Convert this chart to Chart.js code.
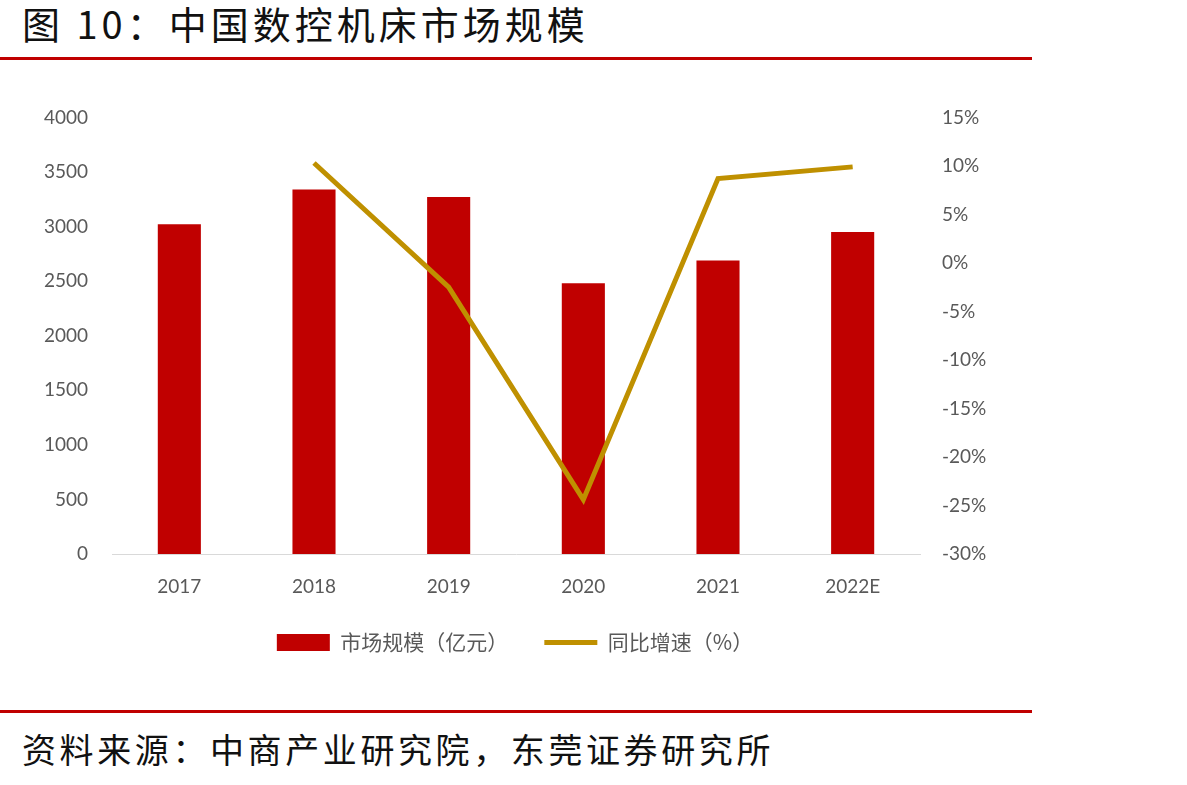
<!DOCTYPE html>
<html>
<head>
<meta charset="utf-8">
<script src="https://cdn.jsdelivr.net/npm/chart.js@4"></script>
<style>
  body { margin: 0; background: #fff; width: 1187px; height: 785px; position: relative; overflow: hidden; }
  .titulo { position: absolute; left: 22px; top: 0px; font: 38px "Noto Sans CJK SC", sans-serif; letter-spacing: 4px; color: #111; line-height: 46px; }
  .fuente { position: absolute; left: 22px; top: 726px; font: 34px "Noto Sans CJK SC", sans-serif; letter-spacing: 3.6px; color: #111; line-height: 46px; }
  .linea { position: absolute; left: 0; width: 1032px; height: 3px; background: #c00000; }
  #caja { position: absolute; left: 0; top: 82px; width: 1030px; height: 608px; }
</style>
</head>
<body>
<div class="titulo">图 10：中国数控机床市场规模</div>
<div class="linea" style="top:57px"></div>
<div id="caja"><canvas id="myChart"></canvas></div>
<div class="linea" style="top:710px"></div>
<div class="fuente">资料来源：中商产业研究院，东莞证券研究所</div>
<script>
const anios = ["2017", "2018", "2019", "2020", "2021", "2022E"];
const mercado = [3020, 3340, 3270, 2480, 2690, 2950];   // 亿元
const crecimiento = [null, 10.3, -2.5, -24.4, 8.7, 9.9]; // %
const ticksIzq = [0, 4000, 500];
const ticksDer = [-30, 15, 5];

const fuenteEje = { family: "Lato, 'Noto Sans CJK SC', sans-serif", size: 19 };
const colorTexto = "#595959";
const ctx = document.getElementById("myChart");

const config = {
  type: "bar",
  data: {
    labels: anios,
    datasets: [
      {
        label: "市场规模（亿元）",
        data: mercado,
        backgroundColor: "#c00000",
        borderWidth: 0,
        barPercentage: 0.32,
        categoryPercentage: 1,
        yAxisID: "y",
        order: 1,
      },
      {
        type: "line",
        label: "同比增速（%）",
        data: crecimiento,
        borderColor: "#bf9000",
        backgroundColor: "#bf9000",
        borderWidth: 5,
        pointRadius: 0,
        tension: 0,
        yAxisID: "y1",
        order: 0,
      },
    ],
  },
  options: {
    responsive: true,
    maintainAspectRatio: false,
    animation: false,
    layout: { padding: { top: 19, bottom: 27, left: 0, right: 0 } },
    plugins: {
      tooltip: { enabled: false },
      legend: {
        position: "bottom",
        labels: {
          usePointStyle: true,
          pointStyleWidth: 53,
          boxHeight: 17,
          padding: 36,
          color: colorTexto,
          font: { family: "'Noto Sans CJK SC', sans-serif", size: 21 },
          sort: (a, b) => a.datasetIndex - b.datasetIndex,
          generateLabels: (chart) => {
            const items = Chart.defaults.plugins.legend.labels.generateLabels(chart);
            items.forEach((it) => {
              it.pointStyle = it.datasetIndex === 0 ? "rect" : "line";
            });
            return items;
          },
        },
      },
    },
    scales: {
      x: {
        grid: { display: false },
        border: { display: true, color: "#d9d9d9", width: 1 },
        ticks: { color: colorTexto, font: fuenteEje, padding: 13 },
        afterFit: (s) => { s.height = 42; },
      },
      y: {
        position: "left",
        min: ticksIzq[0],
        max: ticksIzq[1],
        ticks: { stepSize: ticksIzq[2], color: colorTexto, font: fuenteEje, padding: 24, callback: (v) => String(v) },
        grid: { display: false, drawTicks: false },
        border: { display: false },
        afterFit: (s) => { s.width = 112; },
      },
      y1: {
        position: "right",
        min: ticksDer[0],
        max: ticksDer[1],
        ticks: {
          stepSize: ticksDer[2],
          color: colorTexto,
          font: fuenteEje,
          padding: 22,
          callback: (v) => v + "%",
        },
        grid: { display: false, drawTicks: false },
        border: { display: false },
        afterFit: (s) => { s.width = 110; },
      },
    },
  },
};

new Chart(ctx, config);
</script>
</body>
</html>
